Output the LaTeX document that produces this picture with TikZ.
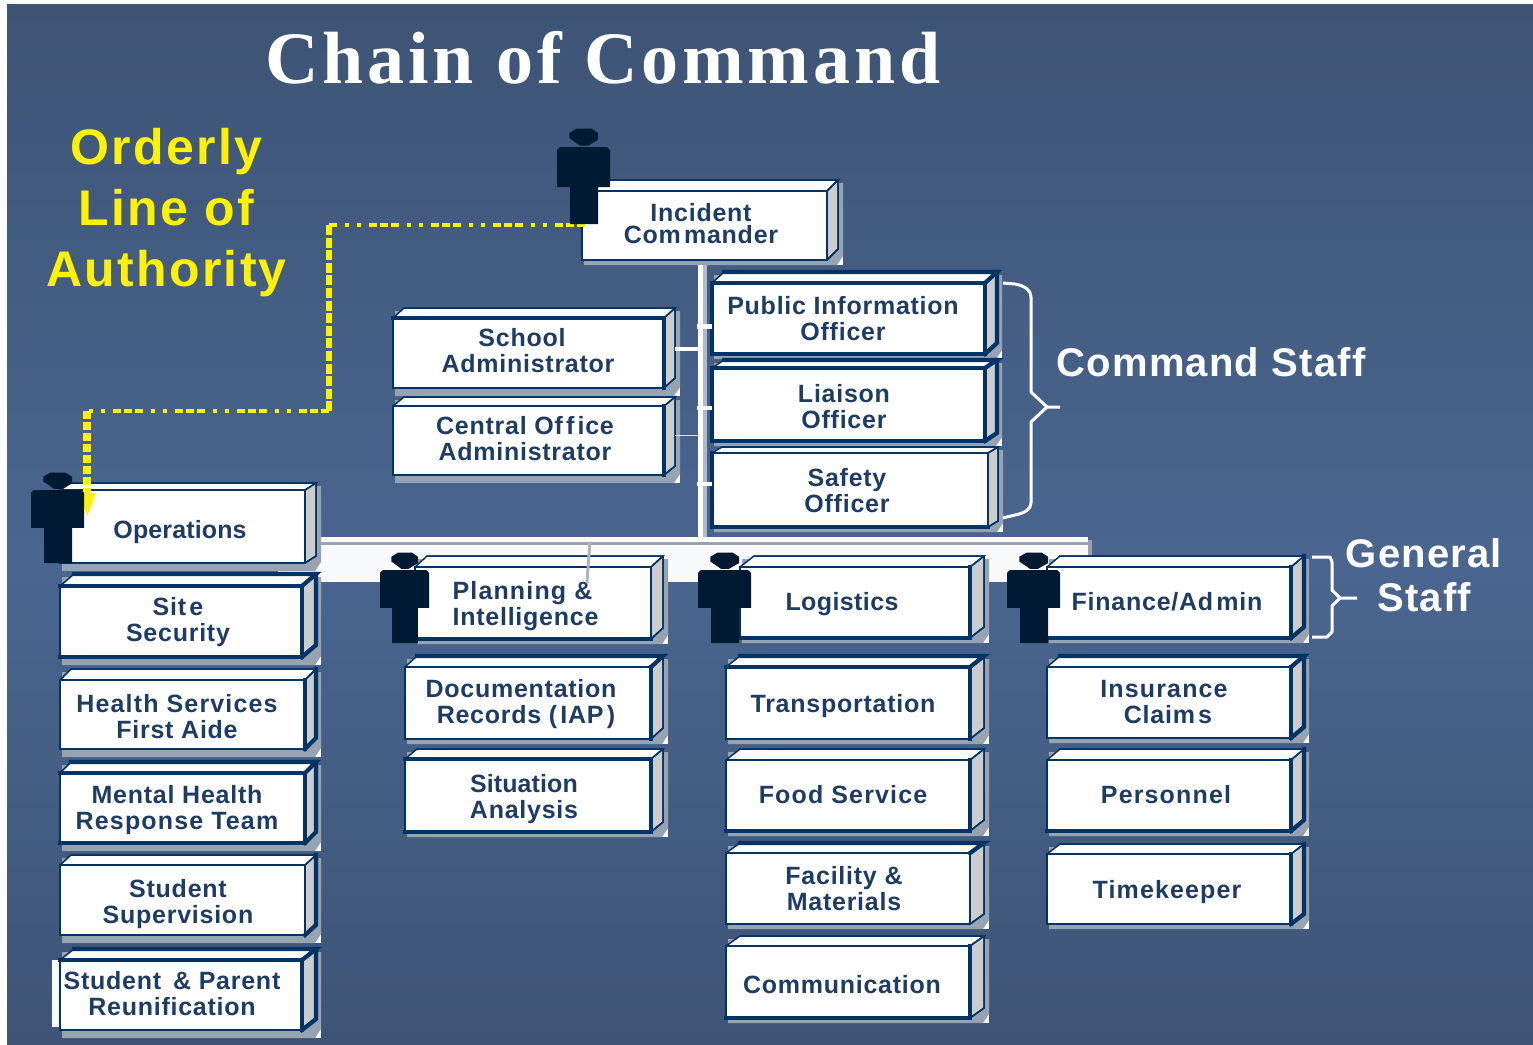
\documentclass[tikz,border=0pt]{standalone}
\usepackage{fontspec}
\setmainfont{Liberation Sans}
\newfontfamily\labfont[LetterSpace=3,Ligatures=NoCommon]{Liberation Sans Bold}
\newfontfamily\bigfont[LetterSpace=3,Ligatures=NoCommon]{Liberation Sans Bold}
\newfontfamily\authfont[LetterSpace=4.6,Ligatures=NoCommon]{Liberation Sans Bold}
\newfontfamily\titlefont[LetterSpace=5.2,Ligatures=NoCommon]{Liberation Serif Bold}
\definecolor{navy}{HTML}{003366}
\definecolor{ink}{HTML}{1F3D63}
\definecolor{bgdark}{HTML}{3D5475}
\definecolor{bglight}{HTML}{4A6690}
\definecolor{figcol}{HTML}{001A33}
\definecolor{shadowgray}{HTML}{97A3B1}
\pgfdeclarelayer{under}
\pgfsetlayers{under,main}
\tikzset{
  x=0.5pt,y=-0.5pt,
  front/.style={draw=navy,fill=white,inner sep=0pt,outer sep=0pt,rectangle,line width=0.75pt},
  lab/.style={text=ink,font=\labfont\fontsize{12.5}{13}\selectfont,align=center,inner sep=0pt},
  biglab/.style={font=\bigfont\fontsize{20}{22}\selectfont,align=center,inner sep=0pt},
  wire/.style={white,line width=2.4pt},
  thinwire/.style={white!80!bglight,line width=0.5pt},
  brace/.style={white,line width=1.5pt,line join=round},
  authority/.style={yellow,dash pattern=on 4pt off 1.5pt on 4pt off 1.5pt on 4pt off 4pt on 2pt off 4pt on 2pt off 4pt},
  edgeline/.style={navy,line cap=rect},
}
\def\parsebox#1/#2/#3/#4/#5/#6\relax{\def\xa{#1}\def\ya{#2}\def\xb{#3}\def\yb{#4}\def\yt{#5}\def\xr{#6}}
\def\parseflags#1/#2/#3/#4/#5/#6\relax{%
  \pgfmathsetmacro{\wL}{0.75+1.35*#1}\pgfmathsetmacro{\wT}{0.75+1.35*#2}%
  \pgfmathsetmacro{\wB}{0.75+1.35*#3}\pgfmathsetmacro{\wR}{0.75+1.35*#4}%
  \pgfmathsetmacro{\wU}{0.75+1.35*#5}\pgfmathsetmacro{\wO}{0.75+1.35*#6}}
% \bx[label opts]{name}{L/T/B/R/U/O thick flags}{x1/y1/x2/y2/top/right}{tx}{ty}{text}
\newcommand{\bx}[7][]{%
  \parsebox#4\relax
  \parseflags#3\relax
  \pgfmathsetmacro{\ww}{(\xb-\xa)*0.5}%
  \pgfmathsetmacro{\hh}{(\yb-\ya)*0.5}%
  \pgfmathsetmacro{\cx}{(\xa+\xb)/2}%
  \pgfmathsetmacro{\cy}{(\ya+\yb)/2}%
  \pgfmathsetmacro{\sd}{\xa<400?8:5}%
  \pgfmathsetmacro{\dd}{\xr-\xb}%
  \fill[white!94!shadowgray] (\xa+2,\yt+3) rectangle (\xr+5,\yb+\sd);
  \fill[shadowgray] (\xa+2,\yt+3) -- (\xr+5,\yt+3) -- (\xr+5,\yb+\sd-9) -- (\xb+\dd-1,\yb+\sd) -- (\xa+2,\yb+\sd) -- cycle;
  \fill[white] (\xa,\ya) -- (\xa+\dd,\yt) -- (\xr,\yt) -- (\xb,\ya) -- cycle;
  \fill[black!20] (\xb,\ya) -- (\xr,\yt) -- (\xr,\yb+\yt-\ya) -- (\xb,\yb) -- cycle;
  \node[front,minimum width=\ww pt,minimum height=\hh pt] (#2) at (\cx,\cy) {};
  \draw[navy,line width=0.75pt] (#2.north west) -- (\xa+\dd,\yt) -- (\xr,\yt) -- (#2.north east);
  \draw[navy,line width=0.75pt] (\xr,\yt) -- (\xr,\yb+\yt-\ya) -- (#2.south east);
  \draw[edgeline,line width=\wL pt] (#2.north west) -- (#2.south west);
  \draw[edgeline,line width=\wT pt] (#2.north west) -- (#2.north east);
  \draw[edgeline,line width=\wB pt] (#2.south west) -- (#2.south east);
  \draw[edgeline,line width=\wR pt] (#2.north east) -- (#2.south east);
  \draw[edgeline,line width=\wU pt] (\xa+\dd,\yt) -- (\xr,\yt) -- (#2.north east);
  \draw[edgeline,line width=\wO pt] (\xr,\yt) -- (\xr,\yb+\yt-\ya) -- (#2.south east);
  \node[lab,#1] (#2-t) at (#5,#6) {#7};
}
% figure: body left x, head top y, total height, body width
\newcommand{\person}[4]{%
  \begin{scope}[shift={(#1,#2)},yscale=#3/96,xscale=#4/53]
    \fill[figcol] (12.3,5) -- (19.5,.7) -- (34.7,.7) -- (41,5) -- (41,11.7) -- (31,17.7) -- (23,17.7) -- (12.3,10) -- cycle;
    \fill[figcol] (3,19) -- (50,19) -- (53,22) -- (53,59) -- (41,59) -- (41,96) -- (13,96) -- (13,59) -- (0,59) -- (0,22) -- cycle;
  \end{scope}%
}
\newcommand{\kk}{\kern1.6pt}
\newcommand{\wide}[1]{{\addfontfeature{LetterSpace=4.6}#1}}
\newcommand{\tight}[1]{{\addfontfeature{LetterSpace=0.4}#1}}
\begin{document}
\begin{tikzpicture}
\useasboundingbox (0,0) rectangle (1533,1045);
\begin{pgfonlayer}{under}
\fill[white] (0,0) rectangle (1533,1045);
\shade[top color=bgdark,bottom color=bglight] (7,4) rectangle (1533,560);
\shade[top color=bglight,bottom color=bgdark] (7,560) rectangle (1533,1045);
\end{pgfonlayer}

% boxes
\bx{ic}{0/0/0/0/0/0}{582/191/827/260/180/838}{701}{224}{Incident\\[-2pt]Com\kk mander}
\bx{pub}{1/1/1/1/1/1}{712/283/985/354/272/997}{843}{318.5}{Public Information\\Officer}
\bx{lia}{1/1/1/1/1/1}{712/368/985/441/360/997}{844}{406.5}{Liaison\\Officer}
\bx{saf}{1/0/1/0/0/0}{712/453/988/527/447/998}{847}{490.5}{Safety\\Officer}
\bx{sch}{0/1/0/1/0/0}{393/318/664/388/308/675}{528}{350.5}{\mbox{School\kern6pt}\\Administrator}
\bx{cen}{0/0/0/1/0/0}{393/406/664/475/397/675}{525}{439}{Central Of\kk f\kk ice\\Administrator}
\bx[font=\labfont\fontsize{12.5}{13}\selectfont\addfontfeature{LetterSpace=0.5}]{ops}{0/0/0/0/0/0}{60/490/305/563/483/316}{180}{532}{Operations}
\bx{sit}{0/1/1/1/1/1}{60/586/302/657/574/316}{178}{622.5}{Sit\kk e\\Security}
\bx{hea}{0/0/0/1/0/1}{60/680/305/749/669/316}{177}{717}{\wide{Health Services}\\First Aide}
\bx{men}{0/1/1/1/1/1}{60/773/305/843/762/316}{177}{810.5}{Mental Health\\\wide{Response Team}}
\bx{stu}{0/0/0/0/0/1}{60/865/305/935/855/316}{178}{904}{Student\\Supervision}
\bx{par}{0/1/0/1/1/1}{60/960/302/1030/949/316}{172}{994}{Student \,\& Parent\\Reunification}
\bx[align=left]{pla}{0/0/1/0/0/0}{415/567/651/639/556/663}{525.5}{606.5}{\wide{Planning \&}\\Intelligence}
\bx{doc}{0/0/0/1/1/0}{405/667/651/739/656/663}{521}{704}{Documentation\\\mbox{\kern5pt Records (\kk IAP\kk )}}
\bx{sia}{0/1/1/1/0/0}{405/759/651/832/749/663}{524}{799.5}{\tight{Situation}\\Analysis}
\bx{log}{0/0/1/1/0/0}{740/567/970/638/556/984}{842}{604}{\addfontfeature{LetterSpace=1.6}Logistics}
\bx{tra}{0/1/0/1/1/0}{726/667/970/739/656/984}{843}{706}{Transportation}
\bx{foo}{0/0/1/1/0/0}{726/760/970/831/749/984}{843}{795}{\wide{Food Service}}
\bx{fac}{0/0/0/0/1/0}{726/853/970/924/843/984}{844}{889}{Facility \&\\Materials}
\bx{com}{0/0/1/1/0/0}{726/946/970/1018/936/984}{842}{985}{Communication}
\bx{fin}{0/0/1/1/0/1}{1047/567/1291/638/556/1304}{1167}{602}{Finance/Ad\kk min}
\bx{ins}{0/0/0/1/1/1}{1047/667/1291/738/656/1304}{1164}{702}{\wide{Insurance}\\\mbox{\kern4pt Claim\kk s}}
\bx{per}{0/0/1/1/0/1}{1047/760/1291/831/749/1304}{1166}{795}{\wide{Personnel}}
\bx{tim}{0/0/0/1/0/1}{1047/854/1291/924/844/1304}{1167}{892}{\wide{Timekeeper}}
\begin{pgfonlayer}{under}
  \fill[white!94!shadowgray] (52,960) rectangle (60,1027);
  % general staff bar
  \node[fill=white!93!shadowgray,inner sep=0pt,minimum width=405pt,minimum height=22.5pt] (bus) at (683,559.5) {};
  \fill[white] (278,537) rectangle (1088,542);
  \fill[shadowgray] (278,542) rectangle (1088,545);
  \fill[shadowgray] (1088,540) rectangle (1092,560);
  % spine from the commander to the bar
  \coordinate (spinew) at (700.5,0);
  \coordinate (spineg) at (705,0);
  \draw[white,line width=2.5pt] (ic.south -| spinew) -- (bus.north -| spinew);
  \draw[shadowgray!75!white,line width=2pt] (ic.south -| spineg) -- (bus.north -| spineg);
\end{pgfonlayer}
% stubs from the spine to the boxes
\draw[wire] (pub.west) ++(0,8) -- ++(-15,0);
\draw[wire] (lia.west) ++(0,3.5) -- ++(-15,0);
\draw[wire] (saf.west) ++(0,-6) -- ++(-15,0);
\draw[wire,line width=2pt] (sch.east) ++(11,-4) -- ++(23,0);
\draw[thinwire] (cen.east) ++(11,-5.5) -- ++(23,0);
% short mark from the bar onto Planning
\draw[shadowgray!80!white,line width=1.5pt] (bus.north -| 590,0) ++(0,5) -- (pla-t.north -| 587,0) -- ++(0,2);

\node[lab,text=white,font=\titlefont\fontsize{37}{40}\selectfont,anchor=base] (title) at (603,83) {Chain of Command};
\node[biglab,text=yellow,font=\authfont\fontsize{25}{30.5}\selectfont] (orderly) at (166.5,212.5) {Orderly\\Line of\\Authority};
\node[biglab,text=white,anchor=base] (cmdstaff) at (1211,376) {Command Staff};
\node[biglab,text=white] (genstaff) at (1424,575.5) {General\\Staff};

% braces
\coordinate (cmdtip) at (1060,407);
\coordinate (gentip) at (1357,598);
\draw[brace] (1003,283) -- (1015,284) .. controls (1025,286) and (1031,290) .. (1031,297) -- (1031,392) -- (1047,407) -- (cmdtip);
\draw[brace] (1003,518) -- (1015,515) .. controls (1025,513) and (1031,509) .. (1031,503) -- (1031,422) -- (1047,407);
\draw[brace] (1312,557) -- (1330,557) -- (1332,562) -- (1332,590) -- (1340,598) -- (gentip);
\draw[brace] (1312,637) -- (1327,637) -- (1332,632) -- (1332,606) -- (1340,598);

% line of authority
\coordinate (authstart) at (585,225);
\coordinate (authc) at (329,225);
\coordinate (authd) at (329,411);
\coordinate (authe) at (87,411);
\coordinate (authf) at (87,494);
\coordinate (authend) at (87.5,516);
\draw[authority,line width=2.4pt] (authstart) -- (authc);
\draw[yellow,line width=3pt,dash pattern=on 5pt off 1.3pt] (authc) -- (authd);
\draw[authority,line width=2.4pt] (authd) -- (authe);
\draw[yellow,line width=4pt,dash pattern=on 4pt off 1.5pt] (authe) -- (authf);
\fill[yellow] (78,493) -- (96,493) -- (authend) -- cycle;

\person{557}{128}{96}{53}
\person{31}{472}{91}{53}
\person{380}{552}{91}{49}
\person{698}{552}{91}{53}
\person{1007}{552}{91}{53}
\end{tikzpicture}
\end{document}
